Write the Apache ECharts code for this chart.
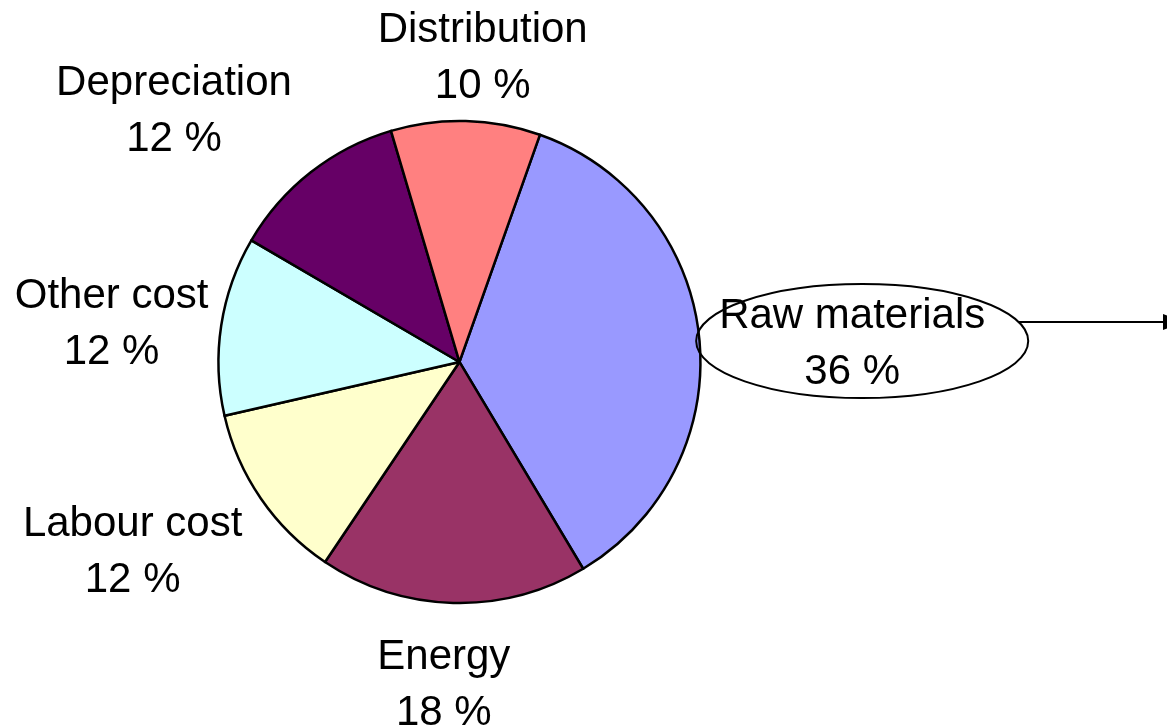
<!DOCTYPE html>
<html>
<head>
<meta charset="utf-8">
<title>Cost structure</title>
<script src="https://cdn.jsdelivr.net/npm/echarts@6/dist/echarts.min.js"></script>
<style>
  html, body { margin: 0; padding: 0; background: #ffffff; }
  #chart { width: 1167px; height: 727px; }
</style>
</head>
<body>
<div id="chart"></div>
<script>
// Cost components and their shares (percent)
const categories = ['Raw materials', 'Energy', 'Labour cost', 'Other cost', 'Depreciation', 'Distribution'];
const shares = [36, 18, 12, 12, 12, 10];
const sliceColors = ['#9999FF', '#993366', '#FFFFCC', '#CCFFFF', '#660066', '#FF8080'];

// Pie geometry
const CENTER_X = 0.3937;      // fraction of chart width
const CENTER_Y = 0.4979;      // fraction of chart height
const RADIUS = 241;           // px
const FIRST_SLICE_FROM_TOP = 19.5; // degrees clockwise from 12 o'clock
const LABEL_GAP = 20;
const TEXT_DY = 11;           // baseline correction for the two-line labels
const FONT = '"Liberation Sans", Arial, sans-serif';
const FONT_SIZE = 42;
const LINE_H = 56;
// Small hand adjustments of each label, in the same order as the categories
const labelNudge = [[0, 2], [-6, 1], [-2, 3], [7, -1], [-8, -16], [12, -3]];

const el = document.getElementById('chart');
const chart = echarts.init(el, null, { renderer: 'canvas' });
const W = chart.getWidth(), H = chart.getHeight();
const cx = W * CENTER_X, cy = H * CENTER_Y;
const total = shares.reduce((a, b) => a + b, 0);

// Centre of a slice label, placed just outside the rim along the slice's mid-angle
function labelCenter(i, w, h) {
  let before = 0;
  for (let k = 0; k < i; k++) before += shares[k];
  const theta = (FIRST_SLICE_FROM_TOP + (before + shares[i] / 2) / total * 360) * Math.PI / 180;
  const ux = Math.sin(theta), uy = -Math.cos(theta);
  const kx = Math.max(-1, Math.min(1, ux * 1.6));
  const ky = uy * 0.9;
  return {
    x: cx + ux * (RADIUS + LABEL_GAP) + kx * w / 2 + labelNudge[i][0],
    y: cy + uy * (RADIUS + LABEL_GAP) + ky * h / 2 + labelNudge[i][1] + TEXT_DY
  };
}

// Callout ellipse around the "Raw materials" label, with a pointer to the right
const measure = document.createElement('canvas').getContext('2d');
measure.font = FONT_SIZE + 'px ' + FONT;
const rawIdx = 0;
const rawW = measure.measureText(categories[rawIdx]).width;
const rawC = labelCenter(rawIdx, rawW, LINE_H * 2);
const ellCx = rawC.x + 10, ellCy = rawC.y - TEXT_DY + 8;
const ellRx = rawW / 2 + 33, ellRy = 57;
const pointerY = ellCy - 19;
const pointerX0 = ellCx + ellRx * Math.sqrt(1 - Math.pow((pointerY - ellCy) / ellRy, 2));

const option = {
  backgroundColor: '#ffffff',
  animation: false,
  series: [{
    type: 'pie',
    center: [(CENTER_X * 100) + '%', (CENTER_Y * 100) + '%'],
    radius: [0, RADIUS],
    startAngle: 90 - FIRST_SLICE_FROM_TOP,
    clockwise: true,
    avoidLabelOverlap: false,
    silent: true,
    data: categories.map((name, i) => ({ name: name, value: shares[i], itemStyle: { color: sliceColors[i] } })),
    itemStyle: { borderColor: '#000000', borderWidth: 2.5 },
    label: {
      show: true,
      position: 'outside',
      formatter: '{b}\n{c} %',
      fontFamily: FONT,
      fontSize: FONT_SIZE,
      lineHeight: LINE_H,
      color: '#000000',
      align: 'center'
    },
    labelLine: { show: false },
    labelLayout: function (p) {
      const c = labelCenter(p.dataIndex, p.labelRect.width, p.labelRect.height);
      return { x: c.x, y: c.y, align: 'center', verticalAlign: 'middle' };
    }
  }],
  graphic: [
    {
      type: 'ellipse',
      z: 10,
      shape: { cx: ellCx, cy: ellCy, rx: ellRx, ry: ellRy },
      style: { fill: null, stroke: '#000000', lineWidth: 2 }
    },
    {
      type: 'line',
      z: 10,
      shape: { x1: pointerX0, y1: pointerY, x2: W - 2, y2: pointerY },
      style: { stroke: '#000000', lineWidth: 2 }
    },
    {
      type: 'polygon',
      z: 10,
      shape: { points: [[W - 4, pointerY - 8], [W + 18, pointerY], [W - 4, pointerY + 8]] },
      style: { fill: '#000000' }
    }
  ]
};

chart.setOption(option);
</script>
</body>
</html>
